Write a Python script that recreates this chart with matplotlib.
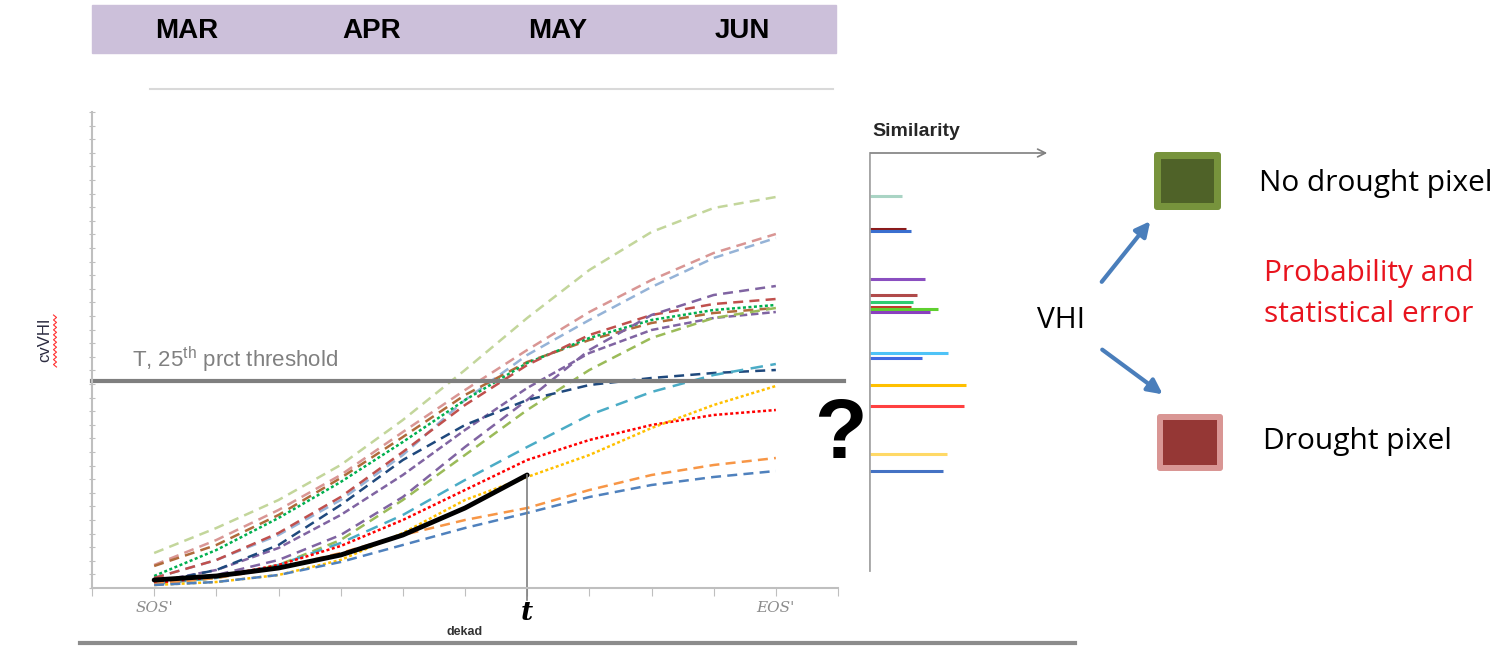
import numpy as np
import matplotlib
matplotlib.use("Agg")
import matplotlib.pyplot as plt
from matplotlib.patches import Rectangle, FancyBboxPatch

plt.rcParams["font.family"] = ["Liberation Sans", "DejaVu Sans"]
plt.rcParams["mathtext.fontset"] = "custom"
plt.rcParams["mathtext.rm"] = "Liberation Sans"

W, H = 1509, 647

# dekads SOS' .. EOS'
dekads = [1, 2, 3, 4, 5, 6, 7, 8, 9, 10, 11]
t_dekad = 7
threshold = 207

# cvVHI of the reference years (height above the x axis)
light_green = [35, 60, 88, 123, 168, 218, 270, 318, 356, 380, 391]
pink = [23, 48, 78, 113, 156, 198, 238, 276, 308, 335, 354]
light_blue = [10, 28, 53, 88, 133, 188, 233, 268, 301, 330, 350]
brown = [22, 43, 73, 110, 151, 193, 226, 248, 265, 275, 280]
green = [12, 38, 70, 106, 146, 188, 225, 250, 268, 278, 283]
red_dashed = [10, 28, 55, 91, 136, 183, 223, 253, 273, 284, 289]
purple_1 = [6, 13, 28, 53, 91, 141, 188, 238, 273, 293, 302]
purple_2 = [6, 18, 40, 73, 113, 158, 200, 235, 258, 270, 276]
olive = [4, 10, 23, 48, 88, 133, 178, 218, 250, 270, 280]
dark_blue = [5, 18, 43, 83, 128, 163, 188, 203, 210, 215, 218]
cyan = [4, 10, 23, 45, 73, 108, 141, 173, 196, 213, 224]
red_dotted = [5, 11, 23, 42, 68, 98, 128, 148, 163, 173, 178]
yellow = [3, 6, 13, 28, 55, 88, 111, 133, 160, 183, 202]
orange = [4, 10, 20, 35, 53, 68, 80, 98, 113, 123, 130]
steel_blue = [3, 6, 13, 26, 43, 60, 75, 91, 103, 111, 117]

# current season up to dekad t
current = [8, 12, 20, 33, 53, 80, 113]

# similarity of each year (bar level, bar length)
sim_levels = [392, 359, 357, 309, 293, 286, 281, 279, 276, 235, 230, 203, 182, 134, 117]
sim_values = [33, 37, 42, 56, 48, 44, 42, 69, 61, 79, 53, 97, 95, 78, 74]
sim_colors = ["#a9d4c4", "#8b1a1a", "#3a6fd0", "#8a4fc0", "#b04a4a", "#2ecc71",
              "#c0392b", "#5fd02f", "#8a3fbf", "#4fc3f7", "#4169e1", "#ffc000",
              "#ff4040", "#ffd966", "#4472c4"]

months = ["MAR", "APR", "MAY", "JUN"]

dash = (0, (4, 2.5))
dot = (0, (1.2, 1))
curves = [
    (light_green, "#c3d69b", dash),
    (pink, "#d99694", dash),
    (light_blue, "#95b3d7", dash),
    (brown, "#b06a3b", dash),
    (green, "#00b050", dot),
    (red_dashed, "#c0504d", dash),
    (purple_1, "#8064a2", dash),
    (purple_2, "#8064a2", (0, (3, 1.5))),
    (olive, "#9bbb59", dash),
    (dark_blue, "#1f497d", dash),
    (cyan, "#4bacc6", (0, (5, 3))),
    (red_dotted, "#ff0000", dot),
    (yellow, "#ffc000", dot),
    (orange, "#f79646", dash),
    (steel_blue, "#4f81bd", dash),
]

fig = plt.figure(figsize=(W / 100, H / 100), dpi=100)

# main chart
ax = fig.add_axes([92 / W, 1 - 588 / H, (838 - 92) / W, (588 - 112) / H])
ax.set_xlim(0, 12)
ax.set_ylim(0, 476)
for vals, col, ls in curves:
    ax.plot(dekads, vals, color=col, lw=1.8, linestyle=ls)
ax.plot(dekads[:len(current)], current, color="black", lw=3.5, solid_capstyle="round")
ax.plot([t_dekad, t_dekad], [-12, current[-1]], color="#7f7f7f", lw=1.2, clip_on=False)
ax.plot([0, 12.1], [threshold, threshold], color="#7f7f7f", lw=3, clip_on=False)
ax.text(0.65, threshold + 14, "T, 25$^{\\rm th}$ prct threshold", color="#808080", fontsize=16)

for s in ["top", "right"]:
    ax.spines[s].set_visible(False)
for s in ["left", "bottom"]:
    ax.spines[s].set_color("#bfbfbf")
    ax.spines[s].set_linewidth(1.5)
ax.set_xticks(range(13))
ax.set_yticks(np.arange(0, 477, 13.6))
ax.tick_params(axis="x", length=6, color="#bfbfbf", labelbottom=False)
ax.tick_params(axis="y", direction="inout", length=5, color="#bfbfbf", labelleft=False)

ax.text(1, -20, "SOS'", ha="center", va="center", family="DejaVu Serif",
        style="italic", color="#8c8c8c", fontsize=11)
ax.text(11, -20, "EOS'", ha="center", va="center", family="DejaVu Serif",
        style="italic", color="#8c8c8c", fontsize=11)
ax.text(t_dekad, -25, "t", ha="center", va="center", family="DejaVu Serif",
        style="italic", weight="bold", fontsize=19)
ax.text(6.0, -44, "dekad", ha="center", va="center", weight="bold", fontsize=9, color="#333333")

# similarity panel
sim = fig.add_axes([869 / W, 1 - 588 / H, (1050 - 869) / W, (588 - 112) / H])
sim.set_xlim(0, 181)
sim.set_ylim(0, 476)
sim.axis("off")
for lvl, v, c in zip(sim_levels, sim_values, sim_colors):
    sim.plot([0, v], [lvl, lvl], color=c, lw=2.2, solid_capstyle="butt")
sim.plot([0, 0], [18, 435], color="#a6a6a6", lw=2)
sim.annotate("", xy=(181, 435), xytext=(-1, 435), annotation_clip=False,
             arrowprops=dict(arrowstyle="->", color="#7f7f7f", lw=1.2, mutation_scale=14))
sim.text(3, 456, "Similarity", weight="bold", fontsize=14, color="#262626", va="center")

# overlay in pixel coordinates
ov = fig.add_axes([0, 0, 1, 1], facecolor="none")
ov.set_xlim(0, W)
ov.set_ylim(H, 0)
ov.axis("off")

ov.add_patch(Rectangle((92, 5), 744, 48, color="#ccc0da"))
for m, xc in zip(months, [187, 372, 558, 742]):
    ov.text(xc, 31, m, ha="center", va="center", weight="bold", fontsize=20)
ov.plot([150, 833], [89, 89], color="#d9d9d9", lw=1.5)
ov.plot([80, 1075], [643, 643], color="#8c8c8c", lw=3)

ov.text(45, 340, "cvVHI", rotation=90, ha="center", va="center", fontsize=12, color="#2b2b40")
zz_y = np.linspace(315, 367, 22)
zz_x = 55 + np.where(np.arange(22) % 2 == 0, -1.5, 1.5)
ov.plot(zz_x, zz_y, color="#ff3030", lw=0.8)

ov.text(840, 436, "?", ha="center", va="center", weight="bold", fontsize=62)

ov.text(1061, 320, "VHI", ha="center", va="center", family="Open Sans", fontsize=21.5)
ov.annotate("", xy=(1152, 219), xytext=(1100, 284),
            arrowprops=dict(arrowstyle="-|>", color="#4a7ebb", lw=3, mutation_scale=22))
ov.annotate("", xy=(1165, 396), xytext=(1100, 348),
            arrowprops=dict(arrowstyle="-|>", color="#4a7ebb", lw=3, mutation_scale=22))

ov.add_patch(FancyBboxPatch((1154, 152), 67, 58, boxstyle="round,pad=0,rounding_size=3",
                            fc="#77933c", ec="none"))
ov.add_patch(Rectangle((1161, 159), 53, 44, fc="#4f6228", ec="none"))
ov.add_patch(FancyBboxPatch((1157, 414), 66, 57, boxstyle="round,pad=0,rounding_size=3",
                            fc="#d99694", ec="none"))
ov.add_patch(Rectangle((1163, 420), 54, 45, fc="#953735", ec="none"))

ov.text(1259, 184, "No drought pixel", va="center", family="Open Sans", fontsize=21.5)
ov.text(1264, 273, "Probability and", va="center", family="Open Sans", fontsize=21.5, color="#e8141e")
ov.text(1264, 315, "statistical error", va="center", family="Open Sans", fontsize=21.5, color="#e8141e")
ov.text(1263, 442, "Drought pixel", va="center", family="Open Sans", fontsize=21.5)

fig.savefig("out.png", dpi=100)
